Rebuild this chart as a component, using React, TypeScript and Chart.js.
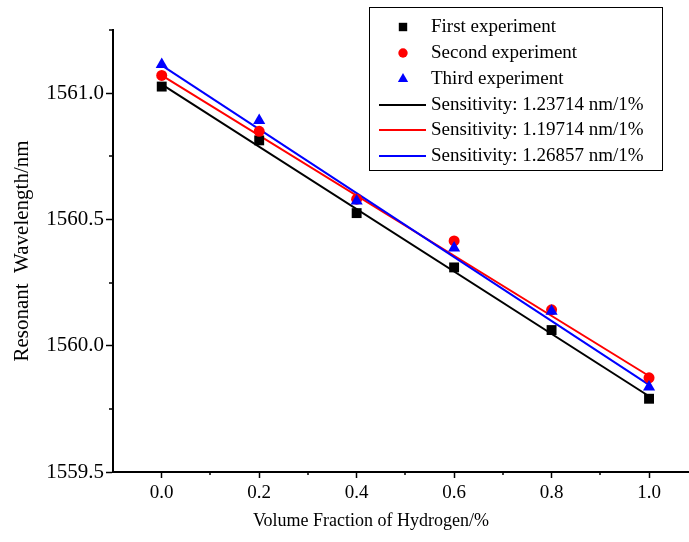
import React, { useEffect, useRef } from "react";
import { Chart, registerables } from "chart.js";

Chart.register(...registerables);

const xValues = [0, 0.2, 0.4, 0.6, 0.8, 1.0];
const firstExp = [1561.026, 1560.813, 1560.525, 1560.31, 1560.062, 1559.79];
const secondExp = [1561.07, 1560.849, 1560.58, 1560.415, 1560.142, 1559.873];
const thirdExp = [1561.113, 1560.892, 1560.573, 1560.387, 1560.136, 1559.837];

const fitX = [0, 1.0];
const firstFit = [1561.035, 1559.8];
const secondFit = [1561.07, 1559.88];
const thirdFit = [1561.11, 1559.845];

const xMajor = [0, 0.2, 0.4, 0.6, 0.8, 1.0];
const xMinor = [0.1, 0.3, 0.5, 0.7, 0.9];
const yMajor = [1559.5, 1560.0, 1560.5, 1561.0];
const yMinor = [1559.75, 1560.25, 1560.75, 1561.25];

const xTitle = "Volume Fraction of Hydrogen/%";
const yTitle = "Resonant  Wavelength/nm";

const pointLabels = ["First experiment", "Second experiment", "Third experiment"];
const fitLabels = [
  "Sensitivity: 1.23714 nm/1%",
  "Sensitivity: 1.19714 nm/1%",
  "Sensitivity: 1.26857 nm/1%",
];
const colors = ["#000000", "#ff0000", "#0000ff"];
const shapes = ["rect", "circle", "triangle"];
const radii = [7, 5.5, 7];

const FONT = "'Liberation Serif', 'Times New Roman', serif";

const toXY = (xs: number[], ys: number[]) => xs.map((x, i) => ({ x, y: ys[i] }));

function drawMarker(ctx: CanvasRenderingContext2D, shape: string, x: number, y: number, r: number, color: string) {
  ctx.fillStyle = color;
  ctx.beginPath();
  if (shape === "rect") {
    const s = r * Math.SQRT1_2;
    ctx.rect(x - s, y - s, 2 * s, 2 * s);
  } else if (shape === "circle") {
    ctx.arc(x, y, r, 0, Math.PI * 2);
  } else {
    let rad = 0;
    ctx.moveTo(x + Math.sin(rad) * r, y - Math.cos(rad) * r);
    rad += (Math.PI * 2) / 3;
    ctx.lineTo(x + Math.sin(rad) * r, y - Math.cos(rad) * r);
    rad += (Math.PI * 2) / 3;
    ctx.lineTo(x + Math.sin(rad) * r, y - Math.cos(rad) * r);
    ctx.closePath();
  }
  ctx.fill();
}

const minorTicksPlugin = {
  id: "minorTicks",
  afterDraw(chart: any) {
    const ctx = chart.ctx;
    const xs = chart.scales.x;
    const ys = chart.scales.y;
    const area = chart.chartArea;
    ctx.save();
    ctx.strokeStyle = "#000";
    ctx.lineWidth = 1.5;
    ctx.beginPath();
    xMinor.forEach((v) => {
      const px = Math.round(xs.getPixelForValue(v));
      ctx.moveTo(px, area.bottom);
      ctx.lineTo(px, area.bottom + 3);
    });
    yMinor.forEach((v) => {
      const py = Math.round(ys.getPixelForValue(v));
      ctx.moveTo(area.left, py);
      ctx.lineTo(area.left - 4, py);
    });
    ctx.stroke();
    // x-axis title
    ctx.fillStyle = "#000";
    ctx.font = `18px ${FONT}`;
    ctx.textAlign = "center";
    ctx.textBaseline = "middle";
    ctx.fillText(xTitle, 371, 521);
    ctx.restore();
  },
};

const legendPlugin = {
  id: "customLegend",
  afterDraw(chart: any) {
    const ctx = chart.ctx;
    const left = 369;
    const top = 7;
    const w = 293;
    const h = 163;
    const rowY = [27, 53, 79, 105, 130, 156];
    ctx.save();
    ctx.fillStyle = "#fff";
    ctx.fillRect(left, top, w, h);
    ctx.strokeStyle = "#000";
    ctx.lineWidth = 1;
    ctx.strokeRect(left + 0.5, top + 0.5, w, h);
    ctx.font = `19px ${FONT}`;
    ctx.textBaseline = "middle";
    ctx.textAlign = "left";
    for (let i = 0; i < 3; i++) {
      const y = rowY[i];
      drawMarker(ctx, shapes[i], 403, y, radii[i] * 0.85, colors[i]);
      ctx.fillStyle = "#000";
      ctx.fillText(pointLabels[i], 431, y);
    }
    for (let i = 0; i < 3; i++) {
      const y = rowY[i + 3];
      ctx.strokeStyle = colors[i];
      ctx.lineWidth = 2;
      ctx.beginPath();
      ctx.moveTo(379, y);
      ctx.lineTo(426, y);
      ctx.stroke();
      ctx.fillStyle = "#000";
      ctx.fillText(fitLabels[i], 431, y);
    }
    ctx.restore();
  },
};

export default function App() {
  const ref = useRef<HTMLCanvasElement | null>(null);

  useEffect(() => {
    if (!ref.current) return;
    const series = [firstExp, secondExp, thirdExp];
    const fits = [firstFit, secondFit, thirdFit];
    const datasets: any[] = [];
    fits.forEach((f, i) => {
      datasets.push({
        label: fitLabels[i],
        data: toXY(fitX, f),
        showLine: true,
        borderColor: colors[i],
        backgroundColor: colors[i],
        borderWidth: 2,
        pointRadius: 0,
        order: 10 - i,
      });
    });
    series.forEach((s, i) => {
      datasets.push({
        label: pointLabels[i],
        data: toXY(xValues, s),
        showLine: false,
        pointStyle: shapes[i],
        pointRadius: radii[i],
        pointBackgroundColor: colors[i],
        pointBorderColor: colors[i],
        pointBorderWidth: 0,
        order: 5 - i,
      });
    });

    const chart = new Chart(ref.current, {
      type: "scatter",
      data: { datasets },
      options: {
        animation: false,
        responsive: false,
        maintainAspectRatio: false,
        layout: { autoPadding: false, padding: { top: 30, right: 0, left: 0, bottom: 0 } },
        plugins: {
          legend: { display: false },
          tooltip: { enabled: false },
        },
        scales: {
          x: {
            type: "linear",
            min: -0.1,
            max: 1.082,
            afterFit: (s: any) => {
              s.height = 70;
              s.paddingLeft = 0;
              s.paddingRight = 0;
            },
            afterBuildTicks: (s: any) => {
              s.ticks = xMajor.map((v) => ({ value: v }));
            },
            ticks: {
              autoSkip: false,
              maxRotation: 0,
              padding: 4,
              color: "#000",
              font: { family: FONT, size: 19 },
              callback: (v: any) => Number(v).toFixed(1),
            },
            grid: {
              display: true,
              drawOnChartArea: false,
              drawTicks: true,
              tickLength: 6,
              tickWidth: 1.5,
              tickColor: "#000",
            },
            border: { display: true, color: "#000", width: 2 },
            title: { display: false, text: xTitle },
          },
          y: {
            type: "linear",
            min: 1559.5,
            max: 1561.25,
            afterFit: (s: any) => {
              s.width = 113;
              s.paddingTop = 0;
              s.paddingBottom = 0;
            },
            afterBuildTicks: (s: any) => {
              s.ticks = yMajor.map((v) => ({ value: v }));
            },
            ticks: {
              autoSkip: false,
              padding: 2,
              color: "#000",
              font: { family: FONT, size: 21 },
              callback: (v: any) => Number(v).toFixed(1),
            },
            grid: {
              display: true,
              drawOnChartArea: false,
              drawTicks: true,
              tickLength: 7,
              tickWidth: 1.5,
              tickColor: "#000",
            },
            border: { display: true, color: "#000", width: 2 },
            title: {
              display: true,
              text: yTitle,
              color: "#000",
              font: { family: FONT, size: 21 },
              padding: { top: 10, bottom: 10 },
            },
          },
        },
      },
      plugins: [minorTicksPlugin, legendPlugin],
    } as any);
    return () => chart.destroy();
  }, []);

  return (
    <div style={{ position: "absolute", left: 0, top: 0, width: 689, height: 542, background: "#fff", overflow: "hidden" }}>
      <canvas ref={ref} width={689} height={542} style={{ width: 689, height: 542 }} />
    </div>
  );
}
